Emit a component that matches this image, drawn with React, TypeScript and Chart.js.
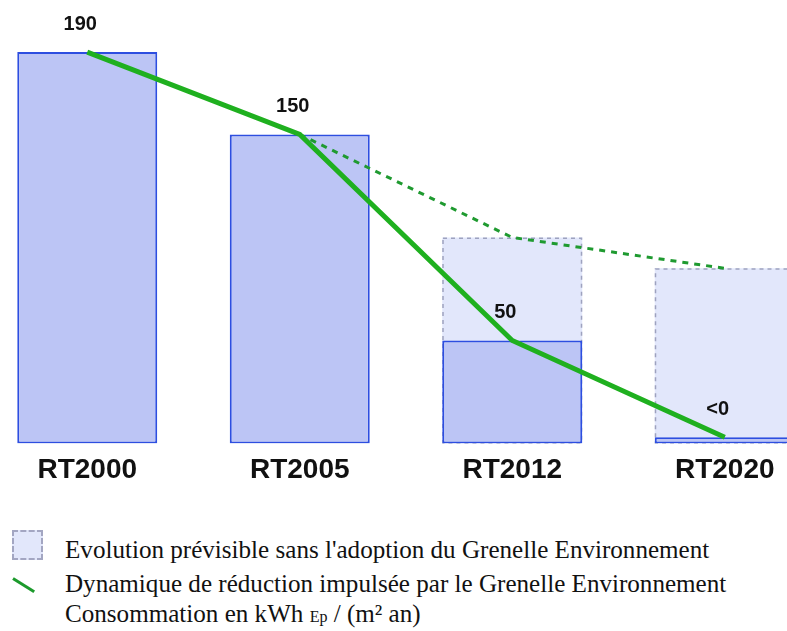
import React, { useEffect, useRef } from 'react';
import { Chart, registerables } from 'chart.js';

Chart.register(...registerables);

const categories = ['RT2000', 'RT2005', 'RT2012', 'RT2020'];
const consumption = [190, 150, 50, 3];
const withoutGrenelle = [null, null, 100, 85];
const reductionLine = [190, 150, 50, 3];
const forecastLine = [null, 150, 100, 85];
const valueLabels = ['190', '150', '50', '<0'];

const legendForecast = "Evolution prévisible sans l'adoption du Grenelle Environnement";
const legendReduction = 'Dynamique de réduction impulsée par le Grenelle Environnement';

export default function App() {
  const ref = useRef<HTMLCanvasElement>(null);

  useEffect(() => {
    if (!ref.current) return;

    const dashedBorder = {
      id: 'dashedBorder',
      afterDatasetDraw(chart: any, args: any) {
        const ds = chart.data.datasets[args.index];
        if (ds.label !== 'forecast') return;
        const ctx = chart.ctx;
        ctx.save();
        ctx.setLineDash([4, 4]);
        ctx.lineWidth = 1.5;
        ctx.strokeStyle = '#9ea2bf';
        args.meta.data.forEach((el: any, i: number) => {
          if (ds.data[i] == null) return;
          const { x, y, base, width } = el.getProps(['x', 'y', 'base', 'width'], true);
          ctx.strokeRect(x - width / 2 + 0.75, y + 0.75, width - 1.5, base - y - 1.5);
        });
        ctx.restore();
      },
    };

    const valueLabelPlugin = {
      id: 'valueLabels',
      afterDatasetsDraw(chart: any) {
        const idx = chart.data.datasets.findIndex((d: any) => d.label === 'consumption');
        const meta = chart.getDatasetMeta(idx);
        const ctx = chart.ctx;
        ctx.save();
        ctx.font = 'bold 20px "Liberation Sans", Arial, sans-serif';
        ctx.fillStyle = '#111';
        ctx.textAlign = 'center';
        ctx.textBaseline = 'middle';
        meta.data.forEach((el: any, i: number) => {
          const { x, y } = el.getProps(['x', 'y'], true);
          ctx.fillText(valueLabels[i], x - 7, y - 28);
        });
        ctx.restore();
      },
    };

    const chart = new Chart(ref.current, {
      type: 'bar',
      data: {
        labels: categories,
        datasets: [
          {
            type: 'line',
            label: 'reduction',
            data: reductionLine,
            borderColor: '#1fb01f',
            borderWidth: 5,
            pointRadius: 0,
            tension: 0,
            order: 0,
          } as any,
          {
            type: 'line',
            label: 'forecastLine',
            data: forecastLine,
            borderColor: '#1f9a30',
            borderWidth: 3,
            borderDash: [6, 6],
            pointRadius: 0,
            tension: 0,
            order: 0,
          } as any,
          {
            type: 'bar',
            label: 'consumption',
            data: consumption,
            backgroundColor: '#bcc5f5',
            borderColor: '#2d4ee0',
            borderWidth: 2,
            borderSkipped: false,
            grouped: false,
            barPercentage: 140 / 212.5,
            categoryPercentage: 1,
            order: 1,
          } as any,
          {
            type: 'bar',
            label: 'forecast',
            data: withoutGrenelle,
            backgroundColor: '#e2e7fb',
            borderWidth: 0,
            grouped: false,
            barPercentage: 140 / 212.5,
            categoryPercentage: 1,
            order: 2,
          } as any,
        ],
      },
      options: {
        animation: false,
        responsive: false,
        maintainAspectRatio: false,
        layout: { padding: 0 },
        plugins: {
          legend: { display: false },
          tooltip: { enabled: false },
        },
        scales: {
          x: {
            offset: true,
            grid: { display: false, drawTicks: false },
            border: { display: false },
            ticks: {
              color: '#111',
              padding: 10,
              maxRotation: 0,
              font: { family: '"Liberation Sans", Arial, sans-serif', size: 28, weight: 'bold' },
            },
          },
          y: {
            display: false,
            min: 0,
            max: 215.3,
          },
        },
      },
      plugins: [dashedBorder, valueLabelPlugin],
    });

    return () => chart.destroy();
  }, []);

  const serif = '"Liberation Serif", "Times New Roman", serif';
  const textStyle: React.CSSProperties = {
    position: 'absolute',
    left: 65,
    fontFamily: serif,
    fontSize: 25.1,
    lineHeight: '33px',
    color: '#111',
    whiteSpace: 'nowrap',
  };

  return (
    <div style={{ position: 'fixed', left: 0, top: 0, width: 787, height: 631, overflow: 'hidden', background: '#fff' }}>
      <canvas ref={ref} width={850} height={497} style={{ position: 'absolute', left: -19, top: 0, width: 850, height: 497 }} />
      <div
        style={{
          position: 'absolute',
          left: 12,
          top: 530,
          width: 27,
          height: 26,
          background: '#e2e7fb',
          border: '2px dashed #a3a6c2',
        }}
      />
      <div
        style={{
          position: 'absolute',
          left: 13,
          top: 577,
          width: 25,
          height: 3,
          background: '#1c9a2c',
          transform: 'rotate(32deg)',
          transformOrigin: 'left center',
        }}
      />
      <div style={{ ...textStyle, top: 533 }}>{legendForecast}</div>
      <div style={{ ...textStyle, top: 567 }}>{legendReduction}</div>
      <div style={{ ...textStyle, top: 597 }}>
        Consommation en kWh <span style={{ fontSize: 16 }}>Ep</span> / (m² an)
      </div>
    </div>
  );
}
